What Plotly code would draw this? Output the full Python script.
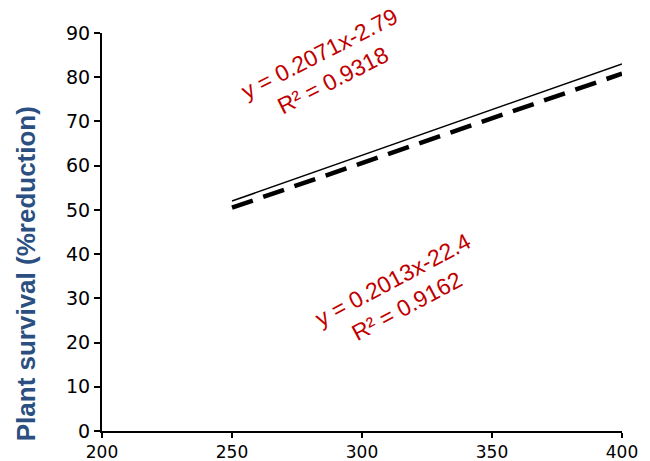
import plotly.graph_objects as go

x_vals = [250, 400]
solid_y = [52.0, 83.0]
dashed_y = [50.5, 80.8]
x_ticks = [200, 250, 300, 350, 400]
y_ticks = [0, 10, 20, 30, 40, 50, 60, 70, 80, 90]
eq1 = "y = 0.2071x-2.79<br>R² = 0.9318"
eq2 = "y = 0.2013x-22.4<br>R² = 0.9162"
y_title = "Plant survival (%reduction)"

fig = go.Figure()
fig.add_trace(go.Scatter(x=x_vals, y=solid_y, mode="lines",
                         line=dict(color="black", width=1.5), showlegend=False))
fig.add_trace(go.Scatter(x=x_vals, y=dashed_y, mode="lines",
                         line=dict(color="black", width=4.5, dash="22px,11px"), showlegend=False))

ann_font = dict(family="Liberation Sans, Arial", size=23, color="#C00000")
fig.add_annotation(x=286.2, y=82.4, text=eq1, showarrow=False, textangle=-27, font=ann_font)
fig.add_annotation(x=314.6, y=31.2, text=eq2, showarrow=False, textangle=-28, font=ann_font)
fig.add_annotation(xref="paper", yref="paper", x=-0.146, y=0.394, xanchor="center", yanchor="middle",
                   text="<b>" + y_title + "</b>", showarrow=False, textangle=-90,
                   font=dict(family="Liberation Sans, Arial", size=26, color="#2A4F80"))

fig.update_xaxes(range=[200, 400], tickvals=x_ticks, showline=True, linecolor="black", linewidth=2,
                 ticks="outside", ticklen=5, tickwidth=2, tickcolor="black", showgrid=False, zeroline=False,
                 tickfont=dict(family="DejaVu Sans", size=17, color="black"), automargin=False)
fig.update_yaxes(range=[0, 90], tickvals=y_ticks, showline=True, linecolor="black", linewidth=2,
                 ticks="outside", ticklen=6, tickwidth=2, tickcolor="black", showgrid=False, zeroline=False,
                 tickfont=dict(family="DejaVu Sans", size=19, color="black"), automargin=False)

fig.update_layout(width=650, height=461, margin=dict(l=102, r=28, t=33, b=30),
                  plot_bgcolor="white", paper_bgcolor="white")
fig.write_html("out.html")
